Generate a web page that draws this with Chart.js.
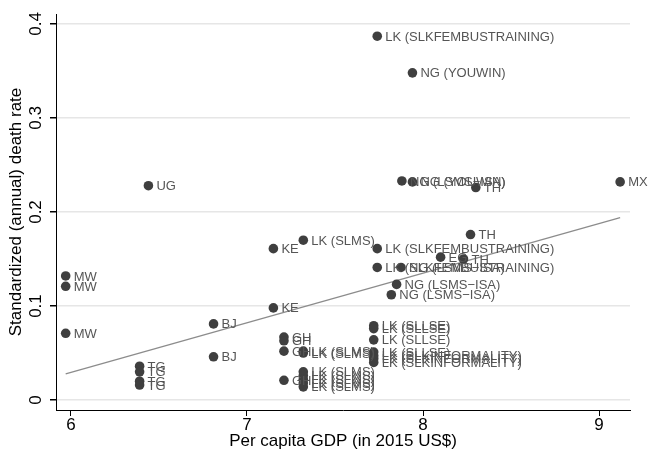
<!DOCTYPE html>
<html lang="en">
<head>
    <meta charset="UTF-8">
    <title>Death rate vs GDP</title>
    <style>
        body { margin: 0; background: #fff; }
        #wrap { width: 648px; height: 452px; }
    </style>
</head>
<body>
<div id="wrap">
    <canvas id="myChart" width="648" height="452"></canvas>
</div>
<script src="https://cdn.jsdelivr.net/npm/chart.js"></script>
<script>
    // log per capita GDP (x) and standardized death rate (y), one entry per study
    const pointLabels = [
        'MW', 'MW', 'MW', 'UG', 'TG', 'TG', 'TG', 'TG', 'BJ', 'BJ',
        'KE', 'KE', 'GH', 'GH', 'GH', 'GH',
        'LK (SLMS)', 'LK (SLMS)', 'LK (SLMS)', 'LK (SLMS)', 'LK (SLMS)', 'LK (SLMS)', 'LK (SLMS)', 'LK (SLMS)',
        'LK (SLKFEMBUSTRAINING)', 'LK (SLKFEMBUSTRAINING)', 'LK (SLKFEMBUSTRAINING)',
        'LK (SLLSE)', 'LK (SLLSE)', 'LK (SLLSE)', 'LK (SLLSE)',
        'LK (SLKINFORMALITY)', 'LK (SLKINFORMALITY)', 'LK (SLKINFORMALITY)',
        'NG (YOUWIN)', 'NG (LSMS\u2212ISA)', 'NG (YOUWIN)', 'NG (LSMS\u2212ISA)', 'NG (LSMS\u2212ISA)', 'NG (LSMS\u2212ISA)',
        'TH', 'TH', 'TH', 'EG', 'MX'
    ];
    const gdp = [
        5.97, 5.97, 5.97, 6.44, 6.39, 6.39, 6.39, 6.39, 6.81, 6.81,
        7.15, 7.15, 7.21, 7.21, 7.21, 7.21,
        7.32, 7.32, 7.32, 7.32, 7.32, 7.32, 7.32, 7.32,
        7.74, 7.74, 7.74,
        7.72, 7.72, 7.72, 7.72,
        7.72, 7.72, 7.72,
        7.94, 7.88, 7.94, 7.875, 7.85, 7.82,
        8.30, 8.27, 8.23, 8.10, 9.12
    ];
    const deathRate = [
        0.132, 0.121, 0.071, 0.228, 0.036, 0.030, 0.020, 0.016, 0.081, 0.046,
        0.161, 0.098, 0.067, 0.063, 0.052, 0.021,
        0.170, 0.052, 0.050, 0.030, 0.026, 0.022, 0.018, 0.014,
        0.387, 0.161, 0.141,
        0.079, 0.076, 0.064, 0.051,
        0.047, 0.044, 0.040,
        0.348, 0.233, 0.232, 0.141, 0.123, 0.112,
        0.226, 0.176, 0.150, 0.152, 0.232
    ];
    // fitted line end points
    const fitX = [5.97, 9.12];
    const fitY = [0.0277, 0.194];

    const xTicks = [6, 7, 8, 9];
    const yTicks = [0, 0.1, 0.2, 0.3, 0.4];

    const points = gdp.map((g, i) => ({ x: g, y: deathRate[i] }));
    const fit = fitX.map((g, i) => ({ x: g, y: fitY[i] }));

    Chart.defaults.font.family = '"Liberation Sans", Arial, Helvetica, sans-serif';
    Chart.defaults.color = '#000';

    const labelPlugin = {
        id: 'labels',
        afterDatasetsDraw(chart) {
            const c = chart.ctx;
            const meta = chart.getDatasetMeta(1);
            c.save();
            c.font = '13px "Liberation Sans", Arial, sans-serif';
            c.fillStyle = '#555';
            c.textBaseline = 'middle';
            c.textAlign = 'left';
            meta.data.forEach((pt, i) => {
                c.fillText(pointLabels[i], pt.x + 8, pt.y + 1);
            });
            // y tick labels, rotated like the original
            const ys = chart.scales.y;
            c.font = '17px "Liberation Sans", Arial, sans-serif';
            c.fillStyle = '#000';
            c.textAlign = 'center';
            yTicks.forEach(v => {
                c.save();
                c.translate(36, ys.getPixelForValue(v));
                c.rotate(-Math.PI / 2);
                c.fillText(String(v), 0, 0);
                c.restore();
            });
            c.restore();
        }
    };

    new Chart(document.getElementById('myChart'), {
        type: 'scatter',
        data: {
            datasets: [{
                data: fit,
                showLine: true,
                borderColor: '#8c8c8c',
                borderWidth: 1.3,
                pointRadius: 0,
                order: 2
            }, {
                data: points,
                backgroundColor: '#3f3f3f',
                borderColor: '#3f3f3f',
                pointRadius: 4.8,
                borderWidth: 0,
                order: 1
            }]
        },
        options: {
            responsive: false,
            animation: false,
            layout: { padding: { top: 14, right: 18, left: 0, bottom: 0 } },
            plugins: { legend: { display: false }, tooltip: { enabled: false } },
            scales: {
                x: {
                    type: 'linear',
                    min: 5.915,
                    max: 9.176,
                    afterBuildTicks: s => { s.ticks = xTicks.map(v => ({ value: v })); },
                    afterFit: s => { s.height = 42; },
                    border: { color: '#000', width: 1 },
                    grid: { drawOnChartArea: false, drawTicks: true, tickLength: 6, tickColor: '#000' },
                    ticks: { font: { size: 17 }, padding: -1, maxRotation: 0 },
                    title: { display: true, text: 'Per capita GDP (in 2015 US$)', font: { size: 17 }, padding: { top: 0, bottom: 0 } }
                },
                y: {
                    type: 'linear',
                    min: -0.0106,
                    max: 0.4106,
                    afterBuildTicks: s => { s.ticks = yTicks.map(v => ({ value: v })); },
                    afterFit: s => { s.width = 56; },
                    border: { color: '#000', width: 1 },
                    grid: { color: '#e6e6e6', lineWidth: 1.5, tickLength: 6, tickColor: '#000' },
                    ticks: { display: false },
                    title: { display: true, text: 'Standardized (annual) death rate', font: { size: 17 }, padding: { top: 6, bottom: 0 } }
                }
            }
        },
        plugins: [labelPlugin]
    });
</script>
</body>
</html>
